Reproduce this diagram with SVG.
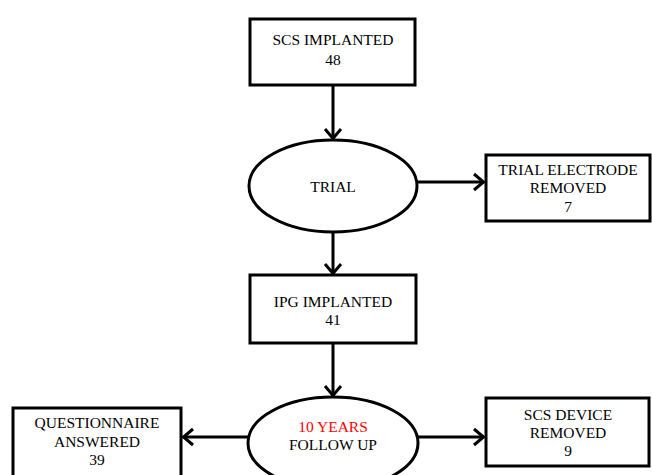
<svg xmlns="http://www.w3.org/2000/svg" width="652" height="475" viewBox="0 0 652 475">
<style>
.box{fill:#fff;stroke:#000;stroke-width:3}
.t{font-family:'Liberation Serif','Times New Roman',Times,serif;font-size:15.5px;fill:#000;text-anchor:middle}
.red{fill:#ff0000}
.c{stroke:#000;stroke-width:3;fill:none}
</style>
<defs>
<marker id="ah" viewBox="0 0 14 20" refX="12" refY="10" markerWidth="14" markerHeight="20" markerUnits="userSpaceOnUse" orient="auto">
<path d="M2,2 L11.5,10 L2,18" fill="none" stroke="#000" stroke-width="3"/>
</marker>
</defs>
<rect width="652" height="475" fill="#fff"/>
<g id="connectors">
<line class="c" x1="333" y1="85" x2="333" y2="139" marker-end="url(#ah)"/>
<line class="c" x1="417" y1="182" x2="484" y2="182" marker-end="url(#ah)"/>
<line class="c" x1="333" y1="232" x2="333" y2="274" marker-end="url(#ah)"/>
<line class="c" x1="333" y1="343" x2="333" y2="396" marker-end="url(#ah)"/>
<line class="c" x1="250" y1="437" x2="183" y2="437" marker-end="url(#ah)"/>
<line class="c" x1="418" y1="437" x2="484" y2="437" marker-end="url(#ah)"/>
</g>
<g font-family="Liberation Serif, Times New Roman, serif">
<g id="scs-implanted">
<rect class="box" x="250" y="19" width="165" height="66"/>
<text class="t" x="333" y="45">SCS IMPLANTED</text>
<text class="t" x="333" y="65">48</text>
</g>
<g id="trial">
<ellipse class="box" cx="333" cy="186" rx="84" ry="46"/>
<text class="t" x="333" y="192">TRIAL</text>
</g>
<g id="trial-electrode-removed">
<rect class="box" x="486" y="155" width="164" height="66"/>
<text class="t" x="568" y="175">TRIAL ELECTRODE</text>
<text class="t" x="568" y="193">REMOVED</text>
<text class="t" x="568" y="212">7</text>
</g>
<g id="ipg-implanted">
<rect class="box" x="250" y="275" width="166" height="68"/>
<text class="t" x="333" y="307">IPG IMPLANTED</text>
<text class="t" x="333" y="325">41</text>
</g>
<g id="follow-up">
<ellipse class="box" cx="333" cy="443" rx="85" ry="46"/>
<text class="t red" x="333" y="432">10 YEARS</text>
<text class="t" x="333" y="450">FOLLOW UP</text>
</g>
<g id="questionnaire-answered">
<rect class="box" x="13" y="408" width="168" height="70"/>
<text class="t" x="97" y="428">QUESTIONNAIRE</text>
<text class="t" x="97" y="447">ANSWERED</text>
<text class="t" x="97" y="465">39</text>
</g>
<g id="scs-device-removed">
<rect class="box" x="486" y="398" width="163" height="68"/>
<text class="t" x="568" y="420">SCS DEVICE</text>
<text class="t" x="568" y="438">REMOVED</text>
<text class="t" x="568" y="456">9</text>
</g>
</g>
</svg>
